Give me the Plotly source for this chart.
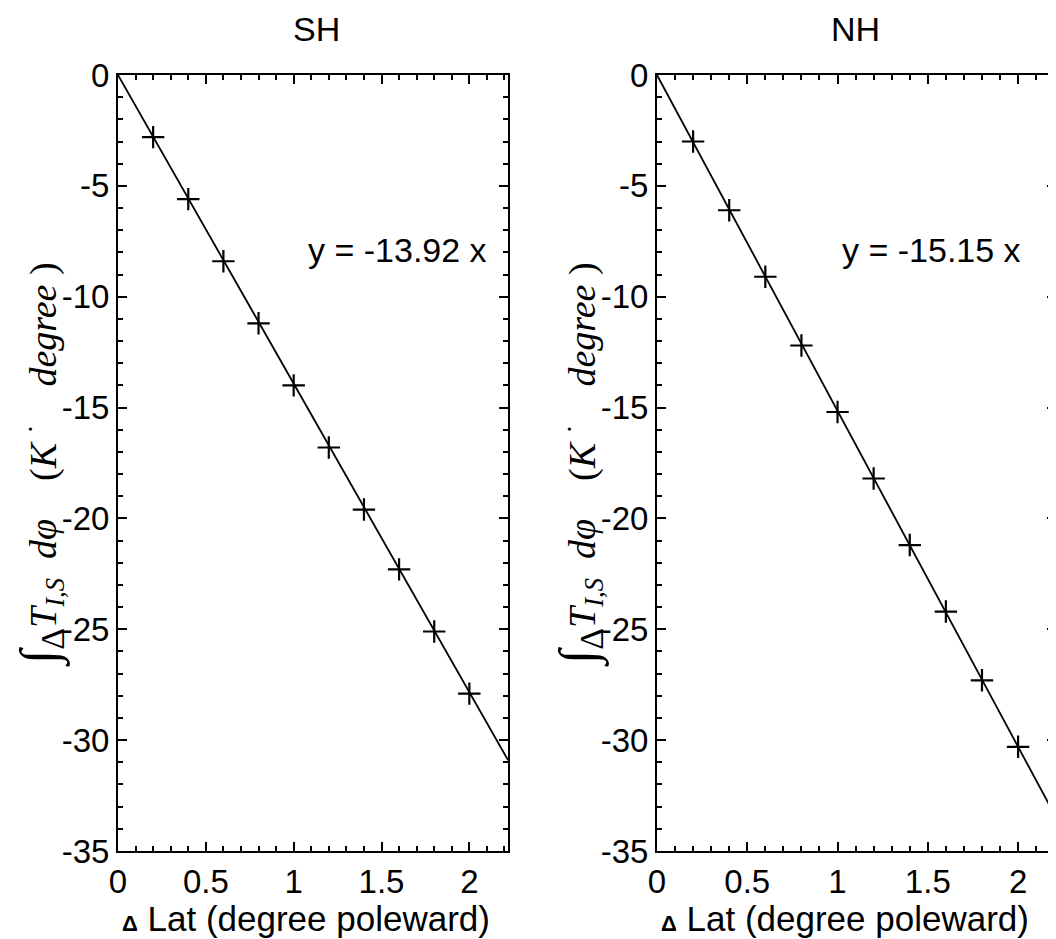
import plotly.graph_objects as go

# data
lat_shift = [0.2, 0.4, 0.6, 0.8, 1.0, 1.2, 1.4, 1.6, 1.8, 2.0]
sh_vals = [-2.8, -5.6, -8.4, -11.2, -14.0, -16.8, -19.6, -22.3, -25.1, -27.9]
nh_vals = [-3.0, -6.1, -9.1, -12.2, -15.2, -18.2, -21.2, -24.2, -27.3, -30.3]
slopes = [-13.92, -15.15]
panel_names = ["SH", "NH"]
x_ticks = [0, 0.5, 1, 1.5, 2]
y_ticks = [0, -5, -10, -15, -20, -25, -30, -35]

# the page body has an 8px margin, so the figure is shrunk by that amount
# and every pixel position below is given in window pixels minus OFF
OFF = 8
W, H = 1056 - OFF, 939 - OFF
SANS = "Liberation Sans, Arial, Helvetica"
tick_font = dict(family=SANS, size=33, color="black")


def px_x(v):
    return (v - OFF) / W


def px_y(v):
    return 1 - (v - OFF) / H


# window-pixel layout of the two panels
panels = [dict(left=118, right=508, xmax=2.22), dict(left=657, right=1056, xmax=2.21)]
top_px, bot_px = 75, 851
y_dom = [px_y(bot_px), px_y(top_px)]

fig = go.Figure()

for i, vals in enumerate([sh_vals, nh_vals]):
    xa = "x" if i == 0 else "x2"
    ya = "y" if i == 0 else "y2"
    fx = [0, panels[i]["xmax"]]
    fig.add_trace(go.Scatter(
        x=fx, y=[slopes[i] * v for v in fx],
        mode="lines", line=dict(color="black", width=1.8),
        xaxis=xa, yaxis=ya, hoverinfo="skip"
    ))
    fig.add_trace(go.Scatter(
        x=lat_shift, y=vals,
        mode="markers",
        marker=dict(symbol="cross-thin", size=16, line=dict(color="black", width=2.2)),
        xaxis=xa, yaxis=ya
    ))


def xaxis_cfg(p, anchor):
    return dict(
        domain=[px_x(p["left"]), min(1.0, px_x(p["right"]))], range=[0, p["xmax"]],
        anchor=anchor,
        tickvals=x_ticks, ticktext=[str(v) for v in x_ticks],
        ticks="inside", ticklen=9, tickwidth=2, tickcolor="black",
        minor=dict(dtick=0.1, ticks="inside", ticklen=5, tickwidth=2, tickcolor="black"),
        showline=True, linecolor="black", linewidth=2, mirror="allticks",
        showgrid=False, zeroline=False, tickfont=tick_font, automargin=False,
    )


def yaxis_cfg(anchor):
    return dict(
        domain=y_dom, range=[-35, 0], anchor=anchor,
        tickvals=y_ticks, ticktext=[str(v) for v in y_ticks],
        ticks="inside", ticklen=9, tickwidth=2, tickcolor="black",
        minor=dict(dtick=1, ticks="inside", ticklen=5, tickwidth=2, tickcolor="black"),
        showline=True, linecolor="black", linewidth=2, mirror="allticks",
        showgrid=False, zeroline=False, tickfont=tick_font, automargin=False,
    )


fig.update_layout(
    width=W, height=H,
    margin=dict(l=0, r=0, t=0, b=0, pad=0),
    paper_bgcolor="white", plot_bgcolor="white",
    showlegend=False,
    xaxis=xaxis_cfg(panels[0], "y"),
    yaxis=yaxis_cfg("x"),
    xaxis2=xaxis_cfg(panels[1], "y2"),
    yaxis2=yaxis_cfg("x2"),
)

ylabel = ("<span style='font-size:52px'>∫</span>"
          "<sub><span style='font-size:34px'>Δ</span></sub>"
          "<i>T<sub>I,S</sub>  dφ</i>    (<i>K</i> <sup>·</sup>    <i>degree</i> )")
xlabel = "<b><span style='font-size:22px'>Δ</span></b> Lat (degree poleward)"
eq_x = [1.59, 1.52]

for i, name in enumerate(panel_names):
    p = panels[i]
    sfx = "" if i == 0 else "2"
    # panel title
    fig.add_annotation(
        text=name, xref="paper", yref="paper", x=px_x(p["left"] + 198), y=px_y(29),
        xanchor="center", yanchor="middle", showarrow=False,
        font=dict(family=SANS, size=34, color="black")
    )
    # x axis title
    fig.add_annotation(
        text=xlabel, xref="paper", yref="paper", x=px_x(p["left"] + 188), y=px_y(918),
        xanchor="center", yanchor="middle", showarrow=False,
        font=dict(family=SANS, size=35, color="black")
    )
    # regression equation
    fig.add_annotation(
        text="y = %.2f x" % slopes[i], xref="x" + sfx, yref="y" + sfx,
        x=eq_x[i], y=-7.9, xanchor="center", yanchor="middle", showarrow=False,
        font=dict(family=SANS, size=34, color="black")
    )
    # y axis label
    fig.add_annotation(
        text=ylabel, xref="paper", yref="paper",
        x=px_x(p["left"] - 77), y=px_y(465), textangle=-90,
        xanchor="center", yanchor="middle", showarrow=False,
        font=dict(family="Liberation Serif, DejaVu Serif", size=38, color="black")
    )

fig.write_html("out.html")
